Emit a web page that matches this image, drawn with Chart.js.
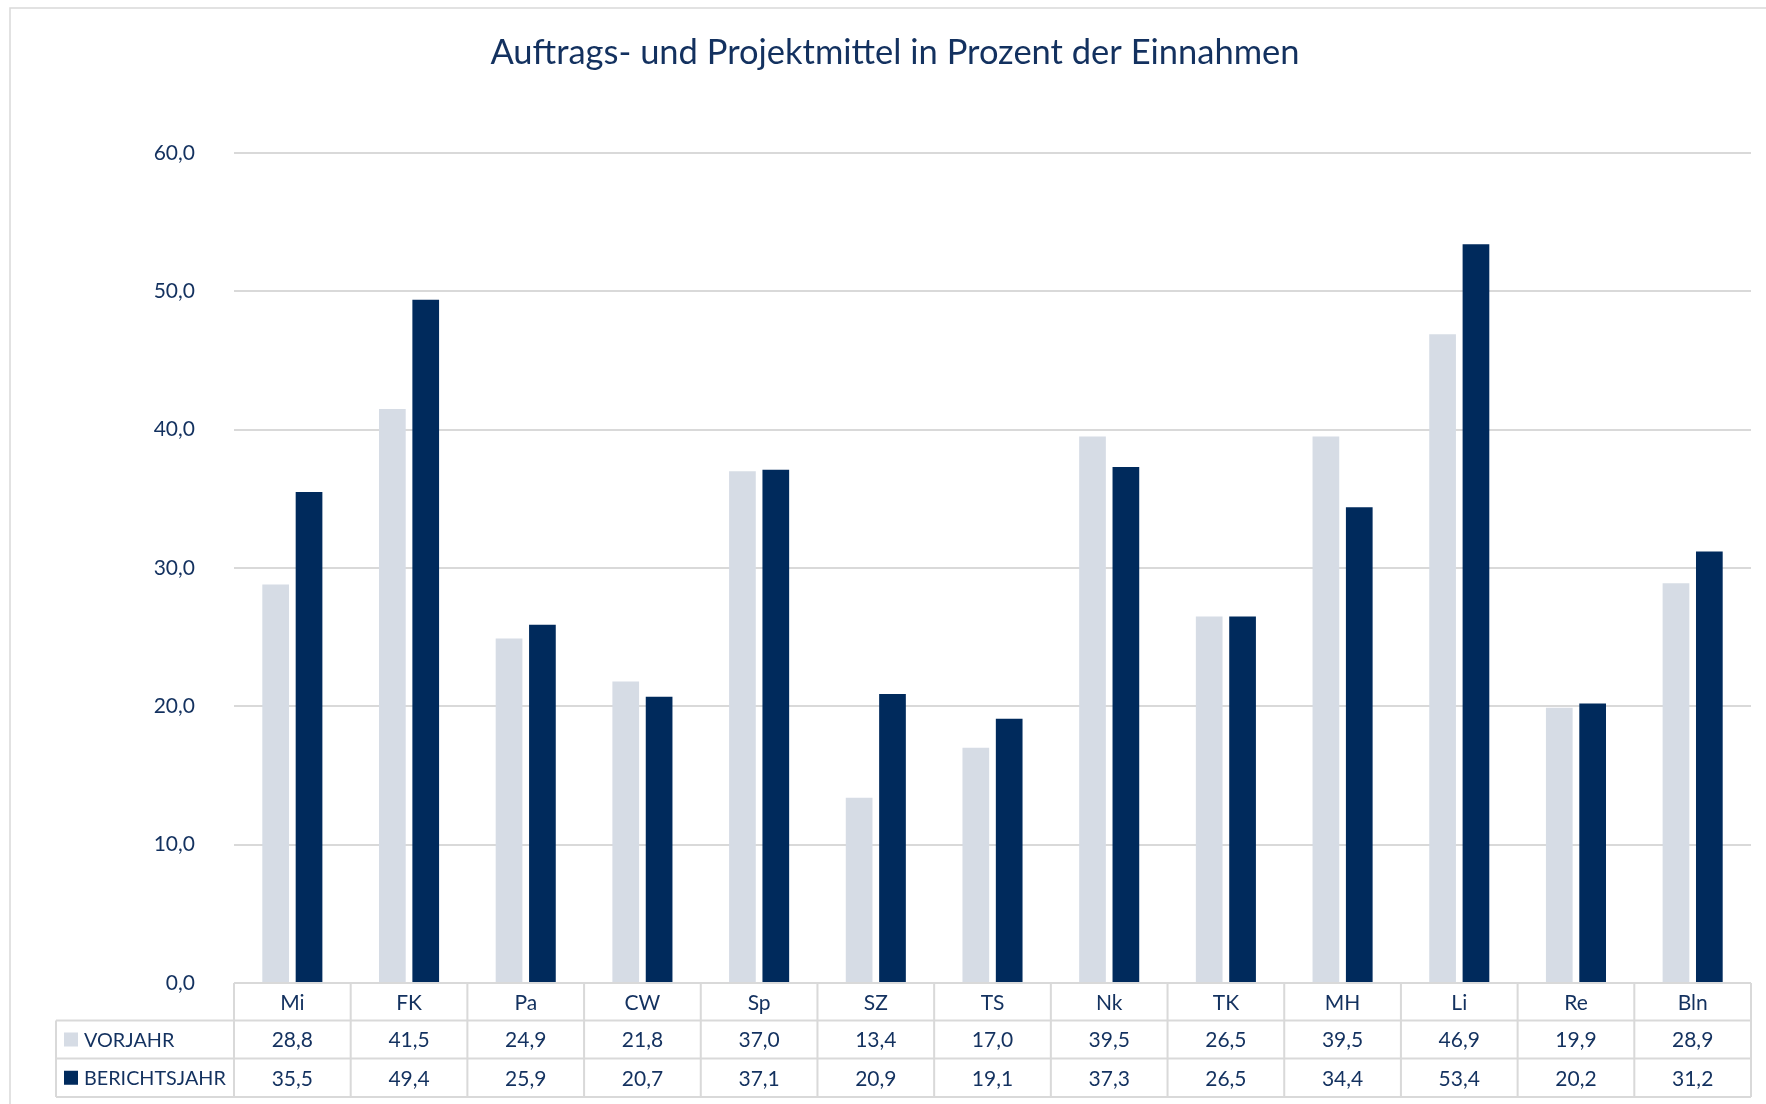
<!DOCTYPE html>
<html>
<head>
<meta charset="utf-8">
<script src="https://cdn.jsdelivr.net/npm/chart.js@4/dist/chart.umd.min.js"></script>
<style>
  html, body { margin: 0; padding: 0; background: #ffffff; }
  #wrap { position: relative; width: 1766px; height: 1104px; }
</style>
</head>
<body>
<div id="wrap"><canvas id="c" width="1766" height="1104"></canvas></div>
<script>
const chartTitle = 'Auftrags- und Projektmittel in Prozent der Einnahmen';
const categories = ['Mi', 'FK', 'Pa', 'CW', 'Sp', 'SZ', 'TS', 'Nk', 'TK', 'MH', 'Li', 'Re', 'Bln'];
const seriesNames = ['VORJAHR', 'BERICHTSJAHR'];
const vorjahr = [28.8, 41.5, 24.9, 21.8, 37.0, 13.4, 17.0, 39.5, 26.5, 39.5, 46.9, 19.9, 28.9];
const berichtsjahr = [35.5, 49.4, 25.9, 20.7, 37.1, 20.9, 19.1, 37.3, 26.5, 34.4, 53.4, 20.2, 31.2];
const yTicks = [0, 10, 20, 30, 40, 50, 60];

const LIGHT = '#d6dce5';
const DARK = '#002a5c';
const TEXT = '#13315f';
const LINE = '#d9d9d9';
const FONT = 'Lato, "Open Sans", sans-serif';

function fmt(v) { return v.toFixed(1).replace('.', ','); }

const tablePlugin = {
  id: 'tablePlugin',
  afterDraw(chart) {
    const ctx = chart.ctx;
    const x = chart.scales.x;
    const area = chart.chartArea;
    const n = categories.length;
    const cw = (area.right - area.left) / n;
    const top = area.bottom;
    const r1 = top + 37.5;
    const r2 = r1 + 38;
    const r3 = r2 + 38.5;
    const leftHdr = 56;
    ctx.save();
    // outer frame
    ctx.strokeStyle = LINE;
    ctx.lineWidth = 1.5;
    ctx.beginPath();
    ctx.moveTo(10, 1104);
    ctx.lineTo(10, 8);
    ctx.lineTo(1766, 8);
    ctx.stroke();

    // title
    ctx.fillStyle = TEXT;
    ctx.font = '34.5px ' + FONT;
    ctx.textAlign = 'center';
    ctx.textBaseline = 'middle';
    ctx.fillText(chartTitle, 895, 53);

    // table lines
    ctx.strokeStyle = LINE;
    ctx.lineWidth = 2;
    ctx.beginPath();
    ctx.moveTo(area.left, top); ctx.lineTo(area.right, top);
    ctx.moveTo(leftHdr, r1); ctx.lineTo(area.right, r1);
    ctx.moveTo(leftHdr, r2); ctx.lineTo(area.right, r2);
    ctx.moveTo(leftHdr, r3); ctx.lineTo(area.right, r3);
    ctx.moveTo(leftHdr, r1); ctx.lineTo(leftHdr, r3);
    for (let i = 0; i <= n; i++) {
      const xx = area.left + i * cw;
      ctx.moveTo(xx, top); ctx.lineTo(xx, r3);
    }
    ctx.stroke();

    // texts
    ctx.font = '21px ' + FONT;
    ctx.fillStyle = TEXT;
    ctx.textAlign = 'center';
    ctx.textBaseline = 'middle';
    for (let i = 0; i < n; i++) {
      const cx = x.getPixelForValue(i);
      ctx.fillText(categories[i], cx, (top + r1) / 2 + 1);
      ctx.fillText(fmt(vorjahr[i]), cx, (r1 + r2) / 2 + 1);
      ctx.fillText(fmt(berichtsjahr[i]), cx, (r2 + r3) / 2 + 1);
    }
    // row headers with legend keys
    const rows = [[seriesNames[0], LIGHT, (r1 + r2) / 2], [seriesNames[1], DARK, (r2 + r3) / 2]];
    ctx.textAlign = 'left';
    ctx.font = '19.8px ' + FONT;
    rows.forEach(([label, col, cy]) => {
      ctx.fillStyle = col;
      ctx.fillRect(64, cy - 7, 14, 14);
      ctx.fillStyle = TEXT;
      ctx.fillText(label, 84, cy + 1);
    });
    ctx.restore();
  }
};

new Chart(document.getElementById('c'), {
  type: 'bar',
  data: {
    labels: categories,
    datasets: [
      { label: seriesNames[0], data: vorjahr, backgroundColor: LIGHT, borderWidth: 0,
        barPercentage: 0.8, categoryPercentage: 0.572 },
      { label: seriesNames[1], data: berichtsjahr, backgroundColor: DARK, borderWidth: 0,
        barPercentage: 0.8, categoryPercentage: 0.572 }
    ]
  },
  options: {
    responsive: false,
    animation: false,
    devicePixelRatio: 1,
    layout: { padding: { left: 0, right: 15, top: 153, bottom: 121 } },
    plugins: {
      legend: { display: false },
      title: { display: false },
      tooltip: { enabled: false }
    },
    scales: {
      x: { display: false },
      y: {
        min: 0, max: 60,
        afterBuildTicks(scale) { scale.ticks = yTicks.map(v => ({ value: v })); },
        afterFit(scale) { scale.width = 234; },
        ticks: {
          color: TEXT,
          font: { family: FONT, size: 21 },
          padding: 39,
          callback: (v) => fmt(v)
        },
        grid: { color: LINE, lineWidth: 2, drawTicks: false },
        border: { display: false }
      }
    }
  },
  plugins: [tablePlugin]
});
</script>
</body>
</html>
